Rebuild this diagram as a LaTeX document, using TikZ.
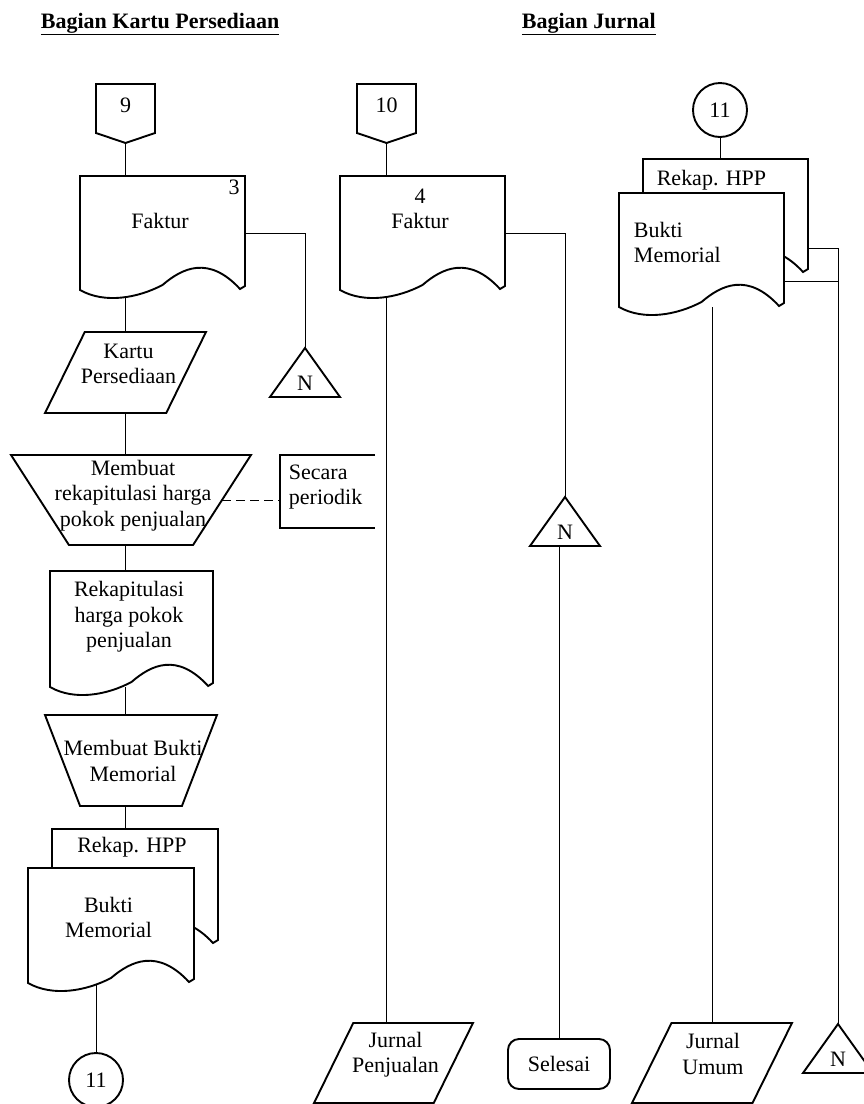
\documentclass[tikz,border=0pt]{standalone}
\usepackage{fontspec}
\setmainfont{Liberation Serif}
\usetikzlibrary{shapes.geometric,positioning}
\pgfdeclarelayer{latar}
\pgfsetlayers{latar,main}

\tikzset{
  kotak/.style={inner sep=0pt, outer sep=0pt},
  teks/.style={align=center, inner sep=0pt},
  jajar/.style={trapezium, trapezium left angle=64, trapezium right angle=116,
    trapezium stretches, draw, inner sep=2pt, outer sep=0pt},
  manual/.style={trapezium, shape border rotate=180, trapezium stretches,
    draw, inner sep=2pt, outer sep=0pt},
  sambung/.style={circle, draw, minimum size=54pt, inner sep=0pt},
  terminal/.style={draw, rounded corners=11pt, minimum width=102pt,
    minimum height=50pt, inner sep=0pt},
}

% dokumen: nama, x, y (kiri atas), lebar, tinggi
\newcommand{\dokumen}[5]{%
  \node[kotak, minimum width=#4pt, minimum height=#5pt, anchor=north west] (#1) at (#2,#3) {};
  \draw[fill=white] (#2,#3) -- (#2+#4,#3) -- (#2+#4,#3+#5-4)
    -- (#2+0.97*#4,#3+#5-1)
    .. controls (#2+0.78*#4,#3+#5-35) and (#2+0.62*#4,#3+#5-22) .. (#2+0.5*#4,#3+#5-5)
    .. controls (#2+0.35*#4,#3+#5+8) and (#2+0.15*#4,#3+#5+14) .. (#2,#3+#5) -- cycle;
}
% penghubung halaman: nama, x tengah, y atas, teks
\newcommand{\halaman}[4]{%
  \draw (#2-29.5,#3) -- (#2+29.5,#3) -- (#2+29.5,#3+49) -- (#2,#3+59)
    -- (#2-29.5,#3+49) -- cycle;
  \node[kotak, minimum width=59pt, minimum height=59pt, text height=14pt,
    text depth=17pt] (#1) at (#2,#3+29.5) {#4};
}
% arsip: nama, x puncak, y puncak
\newcommand{\segitiga}[3]{%
  \draw (#2,#3) -- (#2+35,#3+49) -- (#2-35,#3+49) -- cycle;
  \node[kotak, minimum width=70pt, minimum height=49pt, text height=35pt,
    text depth=0pt] (#1) at (#2,#3+24.5) {N};
}

\begin{document}
\begin{tikzpicture}[x=1pt, y=-1pt, line width=1.9pt,
  every node/.style={font=\fontsize{22}{25.5}\selectfont}]
\useasboundingbox (0,0) rectangle (864,1104);

\node[teks, anchor=base west] (judul1) at (40,28) {\underline{\textbf{Bagian Kartu Persediaan}}};
\node[teks, anchor=base west] (judul2) at (521,28) {\underline{\textbf{Bagian Jurnal}}};

% bagian kartu persediaan
\halaman{p9}{125.5}{84}{9}
\dokumen{faktur1}{80}{176}{165}{114}
\node[teks] (faktur1-teks) at (160,221) {Faktur};
\node[teks] (faktur1-no) at (234,187) {3};
\segitiga{n1}{305}{348}
\node[jajar, minimum width=161pt, minimum height=81pt] (kartu) at (125.5,372.5) {};
\node[teks] (kartu-teks) at (128.5,364) {Kartu\\Persediaan};
\node[manual, trapezium left angle=65, trapezium right angle=65,
  minimum width=240pt, minimum height=90pt] (membuat1) at (131,500) {};
\node[teks] (membuat1-teks) at (133,495.5) {Membuat\\rekapitulasi harga\\pokok penjualan};
\node[kotak, minimum width=95pt, minimum height=73pt] (catatan) at (327.5,491.5) {};
\draw (catatan.north east) -- (catatan.north west) -- (catatan.south west) -- (catatan.south east);
\node[teks, anchor=west, align=left] (catatan-teks) at (288,487) {Secara\\periodik};
\dokumen{rekap1}{50}{571}{163}{116}
\node[teks] (rekap1-teks) at (129,617) {Rekapitulasi\\harga pokok\\penjualan};
\node[manual, trapezium left angle=71, trapezium right angle=71,
  minimum width=172pt, minimum height=91pt] (membuat2) at (131,760.5) {};
\node[teks] (membuat2-teks) at (133,761) {Membuat Bukti\\Memorial};
\dokumen{rekaphpp1}{52}{829}{166}{115}
\node[teks] (rekaphpp1-teks) at (132,847) {Rekap. HPP};
\dokumen{bukti1}{28}{868}{166}{115}
\node[teks] (bukti1-teks) at (108.5,917.5) {Bukti\\Memorial};
\node[sambung] (c11a) at (96,1080) {11};

% faktur ke jurnal penjualan
\halaman{p10}{386.5}{84}{10}
\dokumen{faktur2}{340}{176}{165}{114}
\node[teks] (faktur2-teks) at (420,209) {4\\Faktur};
\segitiga{n2}{565}{497}
\node[terminal] (selesai) at (559,1064) {Selesai};
\node[jajar, minimum width=159pt, minimum height=80pt] (jp) at (393.5,1063) {};
\node[teks] (jp-teks) at (395.5,1054.5) {Jurnal\\Penjualan};

% bagian jurnal
\node[sambung] (c11b) at (720,110) {11};
\dokumen{rekaphpp2}{643}{159}{165}{114}
\node[teks] (rekaphpp2-teks) at (711.5,180) {Rekap. HPP};
\dokumen{bukti2}{619}{193}{165}{114}
\node[teks, anchor=west, align=left] (bukti2-teks) at (633,242.5) {Bukti\\Memorial};
\node[jajar, minimum width=160pt, minimum height=80pt] (ju) at (712,1063) {};
\node[teks] (ju-teks) at (713,1054) {Jurnal\\Umum};
\segitiga{n3}{838}{1024}
\coordinate (belok1) at (838,248);
\coordinate (belok2) at (838,281);

\begin{pgfonlayer}{latar}
\draw (p9.south) -- (p9.south |- faktur1.north);
\draw (faktur1.east) -| (n1.north);
\draw (kartu.north |- faktur1.south) -- (kartu.north);
\draw (kartu.south) -- (kartu.south |- membuat1.north);
\draw[dash pattern=on 9pt off 5pt] (membuat1.east) -- (membuat1.east -| catatan.west);
\draw (kartu.south |- membuat1.south) -- (kartu.south |- rekap1.north);
\draw (kartu.south |- rekap1.south) -- (kartu.south |- membuat2.north);
\draw (kartu.south |- membuat2.south) -- (kartu.south |- rekaphpp1.north);
\draw (c11a.north) -- (c11a.north |- bukti1.south);
\draw (p10.south) -- (p10.south |- faktur2.north);
\draw (faktur2.east) -| (n2.north);
\draw (p10.south |- faktur2.south) -- (p10.south |- jp.north);
\draw (n2.south -| selesai.north) -- (selesai.north);
\draw (c11b.south) -- (c11b.south |- rekaphpp2.north);
\draw (rekaphpp2.east |- belok1) -- (belok1) -- (n3.north);
\draw (bukti2.east |- belok2) -- (belok2);
\draw (ju.north |- bukti2.south) -- (ju.north);
\end{pgfonlayer}
\end{tikzpicture}
\end{document}
